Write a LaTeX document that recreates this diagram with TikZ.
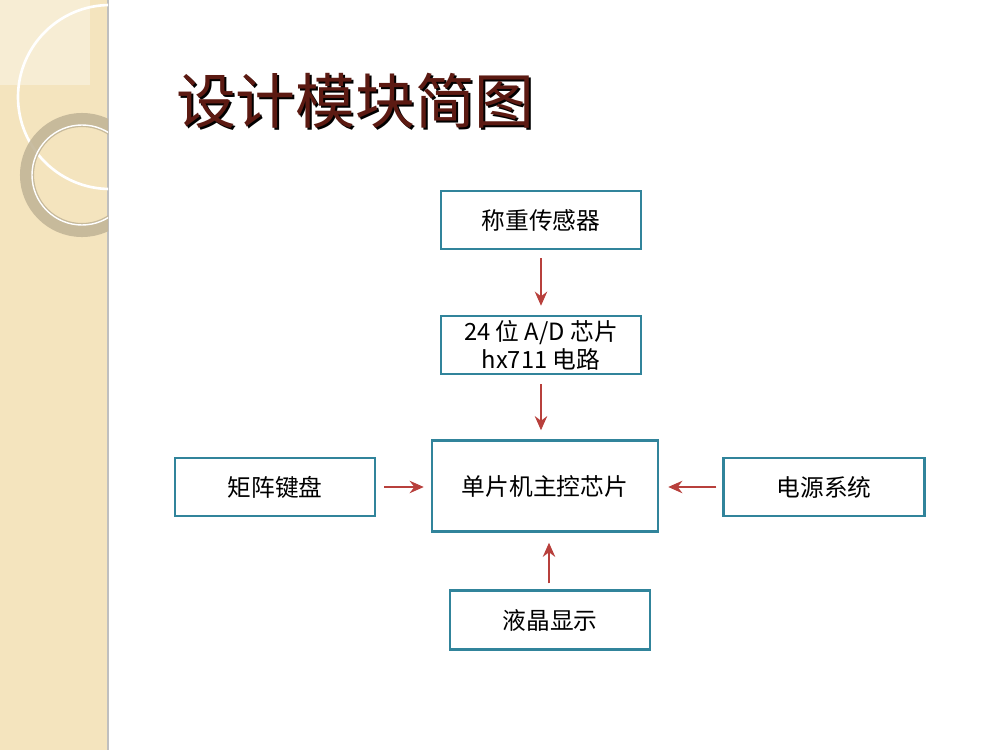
\documentclass[tikz,border=0pt]{standalone}
\usepackage{fontspec}
\setmainfont{Noto Sans CJK SC}
\newfontfamily\cjk{Noto Sans CJK SC}
\usetikzlibrary{arrows.meta}
\definecolor{bd}{HTML}{31849B}
\definecolor{ar}{HTML}{B8403C}
\definecolor{strip}{HTML}{F4E4BE}
\definecolor{ttl}{HTML}{5C1A12}
\begin{document}
\begin{tikzpicture}[x=0.02cm,y=-0.02cm,
  blk/.style={draw=bd, line width=1.4pt, fill=white, inner sep=0pt, font=\cjk\fontsize{13.5}{16}\selectfont, align=center},
  arr/.style={-{Stealth[length=8pt,width=7pt]}, draw=ar, line width=1.6pt}]
\useasboundingbox (0,0) rectangle (1000,750);
\fill[white] (0,0) rectangle (1000,750);
\fill[strip] (0,0) rectangle (108,750);
\draw[black!25, line width=0.6pt] (108,0) -- (108,750);
\begin{scope}
\clip (0,0) rectangle (108,750);
\fill[white, opacity=0.35] (0,0) rectangle (90,85);
\draw[white, line width=1.5pt] (110,97) circle (92);
\draw[black!20!strip, line width=8pt, opacity=0.9] (82,175) circle (55);
\draw[white, line width=0.8pt] (82,175) circle (50);
\end{scope}
\node[font=\cjk\fontsize{34}{40}\selectfont, text=black, anchor=west] at (172,103) {设计模块简图};
\node[font=\cjk\fontsize{34}{40}\selectfont, text=ttl, anchor=west] (title) at (170,101) {设计模块简图};
\node[blk, minimum width=200*0.02cm, minimum height=58*0.02cm] (s) at (541,220) {称重传感器};
\node[blk, minimum width=200*0.02cm, minimum height=58*0.02cm] (ad) at (541,345) {24 位 A/D 芯片\\ hx711 电路};
\node[blk, minimum width=226*0.02cm, minimum height=91*0.02cm] (mcu) at (545,486) {单片机主控芯片};
\node[blk, minimum width=200*0.02cm, minimum height=58*0.02cm] (kb) at (275,487) {矩阵键盘};
\node[blk, minimum width=201*0.02cm, minimum height=58*0.02cm] (pw) at (824,487) {电源系统};
\node[blk, minimum width=200*0.02cm, minimum height=59*0.02cm] (lcd) at (550,620) {液晶显示};
\draw[arr] ([yshift=-8*0.02cm]s.south) -- ([yshift=9*0.02cm]ad.north);
\draw[arr] ([yshift=-9*0.02cm]ad.south) -- ([yshift=9*0.02cm]mcu.north -| ad.south);
\draw[arr] ([xshift=8*0.02cm]kb.east) -- ([xshift=-7*0.02cm]mcu.west |- kb.east);
\draw[arr] ([xshift=-6*0.02cm]pw.west) -- ([xshift=9*0.02cm]mcu.east |- pw.west);
\draw[arr] ([yshift=6*0.02cm]lcd.north -| 549,0) -- ([yshift=-10*0.02cm]mcu.south -| 549,0);
\end{tikzpicture}
\end{document}
